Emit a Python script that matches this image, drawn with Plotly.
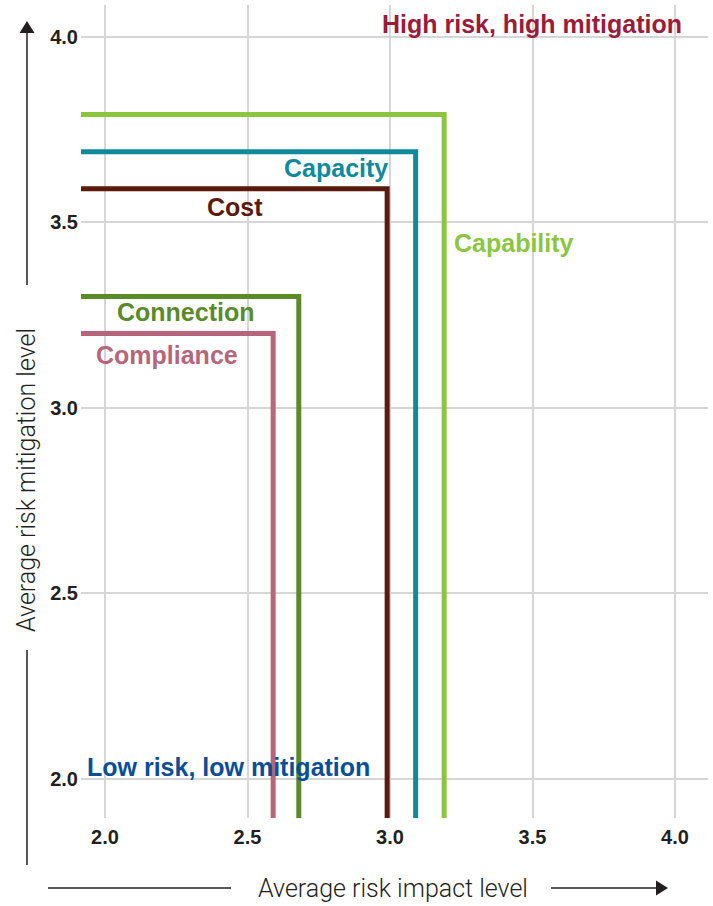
import plotly.graph_objects as go

# ---- data ----
categories = ["Capability", "Capacity", "Cost", "Connection", "Compliance"]
impact = [3.19, 3.09, 2.99, 2.68, 2.59]       # x: average risk impact level
mitigation = [3.79, 3.69, 3.59, 3.3, 3.2]     # y: average risk mitigation level
colors = ["#8cc63f", "#0f8a9d", "#5b1a0e", "#5b8a2b", "#b5667b"]
tick_vals = [2.0, 2.5, 3.0, 3.5, 4.0]
tick_text = ["2.0", "2.5", "3.0", "3.5", "4.0"]

# ---- layout constants ----
W, H = 713, 906
L, R, T, B = 81, 708, 5, 818      # plot area in pixels
X_RANGE = [1.9158, 4.1158]
Y_RANGE = [1.895, 4.085]

def px(x):
    return (x - L) / (R - L)

def py(y):
    return (B - y) / (B - T)

fig = go.Figure()

for name, xv, yv, c in zip(categories, impact, mitigation, colors):
    fig.add_trace(go.Scatter(
        x=[X_RANGE[0], xv, xv],
        y=[yv, yv, Y_RANGE[0]],
        mode="lines",
        line=dict(color=c, width=5),
        name=name,
        hoverinfo="name",
        cliponaxis=False,
    ))

BOLD = "Liberation Sans, Arial, sans-serif"
LIGHT = "Roboto, Liberation Sans, sans-serif"

labels = [
    ("High risk, high mitigation", 532, 24, "#9b1b3a"),
    ("Capacity", 335.5, 168, colors[1]),
    ("Cost", 235, 207, colors[2]),
    ("Capability", 514, 243, colors[0]),
    ("Connection", 186, 312, colors[3]),
    ("Compliance", 167, 355, colors[4]),
    ("Low risk, low mitigation", 228, 767, "#0a4e96"),
]
annotations = []
for text, x, y, c in labels:
    annotations.append(dict(
        text=f"<b>{text}</b>", x=px(x), y=py(y), xref="paper", yref="paper",
        xanchor="center", yanchor="middle", showarrow=False,
        font=dict(family=BOLD, size=25, color=c),
    ))

# axis titles
annotations.append(dict(
    text="Average risk impact level", x=px(393), y=py(889), xref="paper", yref="paper",
    xanchor="center", yanchor="middle", showarrow=False,
    font=dict(family=LIGHT, size=25, color="#231f20", weight=300),
))
annotations.append(dict(
    text="Average risk mitigation level", x=px(26), y=py(480), xref="paper", yref="paper",
    xanchor="center", yanchor="middle", showarrow=False, textangle=-90,
    font=dict(family=LIGHT, size=25, color="#231f20", weight=300),
))

ax_col = "#231f20"
shapes = [
    # y-axis arrow line segments
    dict(type="line", xref="paper", yref="paper", x0=px(27), x1=px(27), y0=py(32), y1=py(285),
         line=dict(color=ax_col, width=1.5)),
    dict(type="line", xref="paper", yref="paper", x0=px(27), x1=px(27), y0=py(650), y1=py(865),
         line=dict(color=ax_col, width=1.5)),
    dict(type="path", xref="paper", yref="paper",
         path=f"M {px(27)},{py(21)} L {px(19.5)},{py(33)} L {px(34.5)},{py(33)} Z",
         fillcolor=ax_col, line=dict(width=0)),
    # x-axis arrow line segments
    dict(type="line", xref="paper", yref="paper", x0=px(48), x1=px(231), y0=py(888), y1=py(888),
         line=dict(color=ax_col, width=1.5)),
    dict(type="line", xref="paper", yref="paper", x0=px(551), x1=px(658), y0=py(888), y1=py(888),
         line=dict(color=ax_col, width=1.5)),
    dict(type="path", xref="paper", yref="paper",
         path=f"M {px(668)},{py(888)} L {px(656)},{py(880.5)} L {px(656)},{py(895.5)} Z",
         fillcolor=ax_col, line=dict(width=0)),
]

grid = "#d6d6d6"
fig.update_layout(
    width=W, height=H,
    margin=dict(l=L, r=W - R, t=T, b=H - B),
    paper_bgcolor="white", plot_bgcolor="white",
    showlegend=False,
    annotations=annotations,
    shapes=shapes,
    xaxis=dict(
        range=X_RANGE, tickvals=tick_vals, ticktext=tick_text,
        showgrid=True, gridcolor=grid, gridwidth=1.5, zeroline=False,
        showline=False, ticks="", ticklabelstandoff=5,
        tickfont=dict(family=BOLD, size=20, color=ax_col, weight="bold"),
    ),
    yaxis=dict(
        range=Y_RANGE, tickvals=tick_vals, ticktext=tick_text,
        showgrid=True, gridcolor=grid, gridwidth=1.5, zeroline=False,
        showline=False, ticks="", ticklabelstandoff=2,
        tickfont=dict(family=BOLD, size=20, color=ax_col, weight="bold"),
    ),
)

fig.write_html(
    "out.html",
    config={"displayModeBar": False},
    post_script="document.body.style.margin='0';document.body.style.overflow='hidden';",
)
